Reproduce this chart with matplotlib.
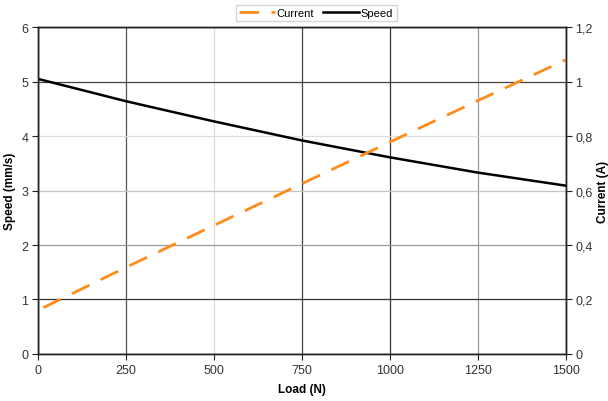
import matplotlib

matplotlib.use("Agg")
import matplotlib.pyplot as plt  # noqa: E402
from matplotlib.ticker import FuncFormatter  # noqa: E402

# data
load_speed = [0, 250, 500, 750, 1000, 1250, 1500]
speed = [5.05, 4.64, 4.27, 3.92, 3.61, 3.33, 3.09]

load_current = [15, 250, 500, 750, 1000, 1250, 1500]
current = [0.17, 0.318, 0.472, 0.625, 0.778, 0.93, 1.08]

x_ticks = [0, 250, 500, 750, 1000, 1250, 1500]
speed_ticks = [0, 1, 2, 3, 4, 5, 6]
current_ticks = [0, 0.2, 0.4, 0.6, 0.8, 1.0, 1.2]

plt.rcParams["font.family"] = ["Liberation Sans", "DejaVu Sans"]

fig = plt.figure(figsize=(6.08, 4.02), dpi=100)
ax = fig.add_axes([0.0625, 0.117, 0.868, 0.813])
ax2 = ax.twinx()

ax.set_xlim(0, 1500)
ax.set_ylim(0, 6)
ax2.set_ylim(0, 1.2)
ax.set_xticks(x_ticks)
ax.set_yticks(speed_ticks)
ax2.set_yticks(current_ticks)
ax2.yaxis.set_major_formatter(FuncFormatter(lambda v, _: f"{v:.1f}".rstrip("0").rstrip(".").replace(".", ",")))

# gridlines with the uneven shades seen in the reference
ax.grid(True, lw=0.9)
vcolors = ["#000000", "#555555", "#dddddd", "#444444", "#333333", "#999999", "#000000"]
hcolors = ["#000000", "#333333", "#999999", "#c4c4c4", "#dddddd", "#444444", "#000000"]
for gl, c in zip(ax.get_xgridlines(), vcolors):
    gl.set_color(c)
for gl, c in zip(ax.get_ygridlines(), hcolors):
    gl.set_color(c)
ax.set_axisbelow(True)

(l_cur,) = ax2.plot(load_current, current, color="#ff8c1a", lw=2, dashes=(7, 4.5), label="Current")
(l_spd,) = ax.plot(load_speed, speed, color="black", lw=1.8, label="Speed")

for a in (ax, ax2):
    for s in a.spines.values():
        s.set_color("#222222")
        s.set_linewidth(1.0)
    a.tick_params(direction="out", length=4, width=0.8, colors="#222222",
                  labelsize=9, labelcolor="#333333", pad=3)

ax.set_xlabel("Load (N)", fontsize=8.5, fontweight="bold", labelpad=5)
ax.set_ylabel("Speed (mm/s)", fontsize=8.5, fontweight="bold", labelpad=4)
ax2.set_ylabel("Current (A)", fontsize=8.5, fontweight="bold", labelpad=3, rotation=90)

fig.legend([l_cur, l_spd], ["Current", "Speed"], loc="upper center",
           bbox_to_anchor=(0.52, 1.0), ncol=2, fontsize=8, frameon=True,
           fancybox=False, edgecolor="#cccccc", handlelength=3.2,
           handletextpad=0.2, columnspacing=0.8, borderpad=0.3)

fig.savefig("out.png", dpi=100)
